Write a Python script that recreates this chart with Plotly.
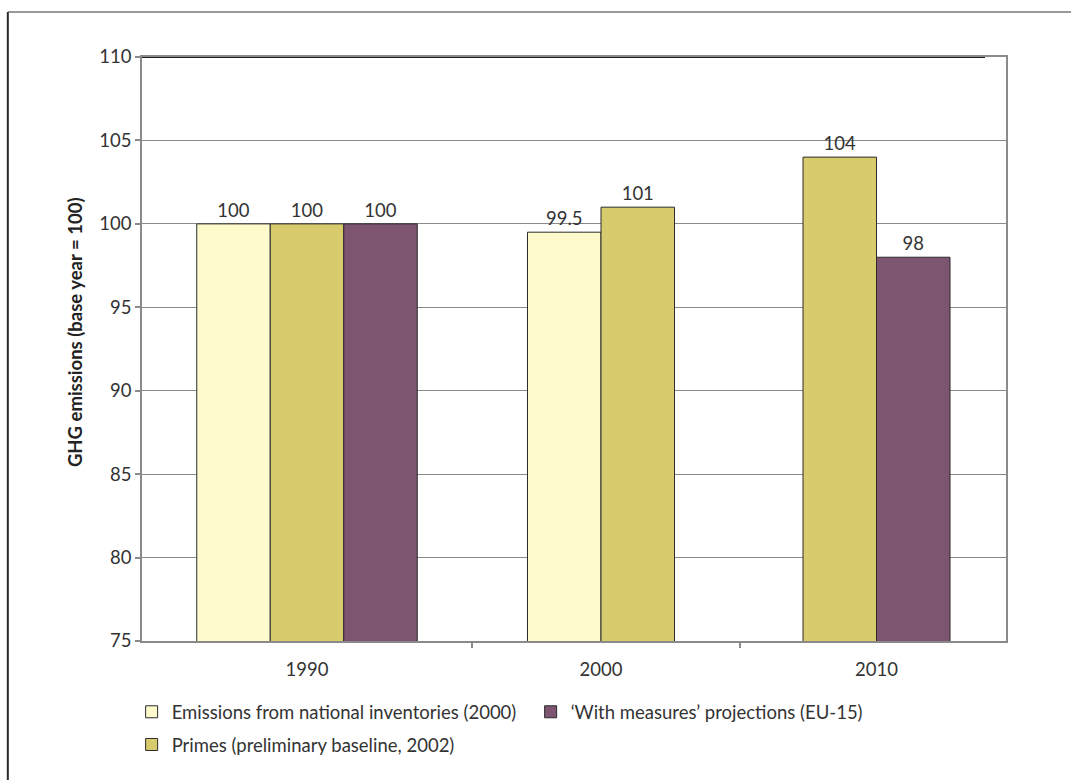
import plotly.graph_objects as go

# Greenhouse gas emissions indexed to the base year
years = ["1990", "2000", "2010"]
series_names = [
    "Emissions from national inventories (2000)",
    "Primes (preliminary baseline, 2002)",
    "\u2018With measures\u2019 projections (EU-15)",
]
inventories = [100, 99.5, None]
primes = [100, 101, 104]
with_measures = [100, None, 98]
value_labels = {
    "inventories": ["100", "99.5", None],
    "primes": ["100", "101", "104"],
    "with_measures": ["100", None, "98"],
}
y_ticks = [75, 80, 85, 90, 95, 100, 105, 110]
y_title = "GHG emissions (base year = 100)"

colors = ["#FEFACC", "#D8CB6E", "#7E5570"]
series = [inventories, primes, with_measures]
label_keys = ["inventories", "primes", "with_measures"]

# layout of the category slots on a numeric x axis
CENTERS = [1.65, 4.59, 7.345]
DIVIDERS = [3.30, 5.98]
BAR_W = 0.735
X_RANGE = [0, 8.64]

# place the bars present in each year side by side, centred on the year
positions = [[None] * len(years) for _ in series]
for c, center in enumerate(CENTERS):
    present = [s for s in range(len(series)) if series[s][c] is not None]
    n = len(present)
    for i, s in enumerate(present):
        positions[s][c] = center + (i - (n - 1) / 2) * BAR_W

font = "Lato, 'Noto Sans', sans-serif"
FS = 18.5
fig = go.Figure()
legend_of = ["legend", "legend2", "legend"]
rank = [1, 3, 2]
for s, name in enumerate(series_names):
    xs = [positions[s][c] for c in range(len(years)) if series[s][c] is not None]
    ys = [series[s][c] for c in range(len(years)) if series[s][c] is not None]
    ts = [value_labels[label_keys[s]][c] for c in range(len(years)) if series[s][c] is not None]
    fig.add_trace(go.Bar(
        x=xs, y=ys, width=BAR_W, name=name,
        marker=dict(color=colors[s], line=dict(color="#2b2b2b", width=1)),
        text=ts, textposition="outside", cliponaxis=False,
        textfont=dict(size=FS, color="#333333", family=font),
        legend=legend_of[s], legendrank=rank[s],
        hoverinfo="skip",
    ))

fig.update_layout(
    width=1071, height=780,
    margin=dict(l=142, r=65, t=57, b=139),
    paper_bgcolor="white", plot_bgcolor="white",
    font=dict(family=font, size=FS, color="#333333"),
    barmode="overlay",
    uniformtext=dict(mode=False),
    xaxis=dict(
        range=X_RANGE, tickmode="array", tickvals=CENTERS, ticktext=years,
        ticks="", showgrid=False, zeroline=False, ticklabelstandoff=11,
        showline=True, linecolor="#8a8a8a", linewidth=1.5, mirror=True,
        tickfont=dict(size=FS, color="#333333"),
        minor=dict(tickmode="array", tickvals=DIVIDERS, ticks="outside",
                   ticklen=5, tickcolor="#8a8a8a", tickwidth=1.5, showgrid=False),
    ),
    yaxis=dict(
        range=[75, 110], tickmode="array", tickvals=y_ticks,
        ticks="outside", ticklen=5, tickcolor="#8a8a8a", tickwidth=1.5,
        showgrid=True, gridcolor="#8a8a8a", gridwidth=1, zeroline=False,
        showline=True, linecolor="#8a8a8a", linewidth=1.5, mirror=True,
        tickfont=dict(size=FS, color="#333333"),
    ),
    annotations=[
        dict(text="<b>" + y_title + "</b>", textangle=-90, xref="paper", yref="paper",
             x=-0.0775, y=0.529, xanchor="center", yanchor="middle", showarrow=False,
             font=dict(size=18.5, color="#222222")),
    ],
    legend=dict(
        orientation="h", x=-0.012, xanchor="left", y=-0.122, yanchor="middle",
        font=dict(size=FS, color="#333333"), entrywidth=354, entrywidthmode="pixels",
        itemwidth=30, bgcolor="rgba(0,0,0,0)",
    ),
    legend2=dict(
        orientation="h", x=-0.012, xanchor="left", y=-0.178, yanchor="middle",
        font=dict(size=FS, color="#333333"), itemwidth=30, bgcolor="rgba(0,0,0,0)",
    ),
    shapes=[
        # dark rule along the top of the plot
        dict(type="line", xref="paper", yref="y", x0=0, x1=0.9757, y0=110, y1=110,
             line=dict(color="#1e1e1e", width=2)),
        # outer frame (top and left edges)
        dict(type="line", xref="paper", yref="paper", x0=-0.1553, x1=1.2, y0=1.0771, y1=1.0771,
             line=dict(color="#777777", width=1.5)),
        dict(type="line", xref="paper", yref="paper", x0=-0.1553, x1=-0.1553, y0=1.0771, y1=-0.4,
             line=dict(color="#2a2a2a", width=2)),
    ],
)

fig.write_html("out.html")
